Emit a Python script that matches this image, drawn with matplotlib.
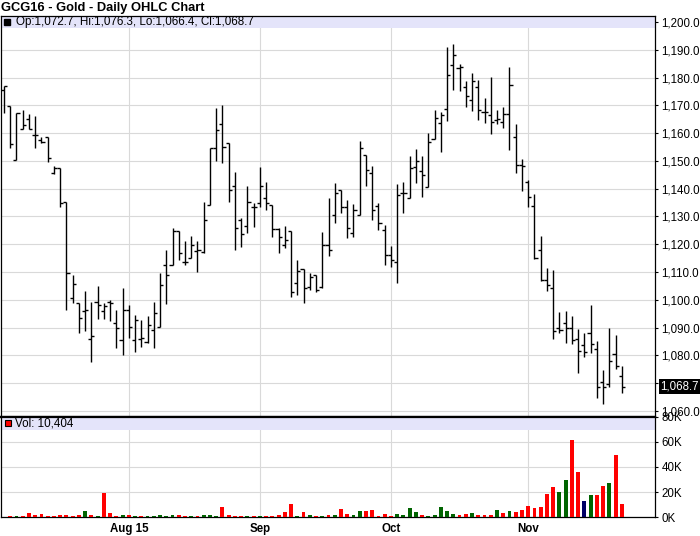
import numpy as np
import matplotlib
matplotlib.use('Agg')
import matplotlib.pyplot as plt
from matplotlib.patches import Rectangle

plt.rcParams['font.family'] = ['Liberation Sans', 'DejaVu Sans']

# daily OHLC (oldest first)
opens = [1175.5, 1169.8, 1150.2, 1161.4, 1165.0, 1159.3, 1157.5, 1158.5, 1145.5, 1147.3,
         1135.1, 1100.5, 1098.9, 1096.0, 1085.7, 1099.2, 1096.0, 1099.3, 1091.5, 1085.5,
         1096.3, 1085.5, 1085.7, 1084.9, 1089.1, 1090.3, 1112.5, 1112.5, 1124.9, 1113.7,
         1114.9, 1117.5, 1117.3, 1134.3, 1154.5, 1163.3, 1156.3, 1141.0, 1128.7, 1126.5,
         1133.5, 1134.7, 1136.5, 1134.3, 1125.5, 1119.7, 1124.7, 1105.9, 1111.1, 1104.7,
         1108.9, 1104.7, 1119.7, 1130.7, 1139.7, 1133.5, 1124.1, 1130.7, 1152.0, 1145.8,
         1133.7, 1125.3, 1116.0, 1113.5, 1138.3, 1136.5, 1147.8, 1146.3, 1140.7, 1158.0,
         1163.8, 1168.8, 1184.7, 1183.5, 1176.8, 1171.8, 1176.8, 1167.8, 1166.4, 1164.9,
         1164.0, 1167.0, 1158.5, 1148.5, 1142.5, 1133.8, 1117.9, 1107.1, 1104.1, 1089.7,
         1091.5, 1089.7, 1085.8, 1083.7, 1087.9, 1082.2, 1070.3, 1069.6, 1080.5, 1072.7]
highs = [1177.0, 1169.8, 1167.1, 1168.3, 1166.9, 1166.2, 1158.5, 1158.5, 1148.2, 1147.3,
         1135.1, 1108.9, 1098.9, 1103.1, 1099.2, 1104.9, 1098.9, 1099.9, 1096.5, 1104.1,
         1098.1, 1094.5, 1092.7, 1094.1, 1099.2, 1109.5, 1118.1, 1125.7, 1124.9, 1121.1,
         1122.9, 1121.1, 1135.1, 1154.8, 1168.9, 1170.1, 1156.3, 1146.0, 1129.3, 1141.0,
         1134.9, 1147.7, 1142.4, 1134.3, 1125.7, 1126.7, 1124.7, 1114.3, 1111.1, 1109.7,
         1108.9, 1124.4, 1136.5, 1141.9, 1139.7, 1135.9, 1134.4, 1157.1, 1152.0, 1148.1,
         1135.0, 1126.9, 1119.3, 1141.6, 1142.5, 1151.7, 1154.2, 1151.7, 1160.2, 1168.2,
         1167.5, 1191.0, 1192.2, 1185.0, 1178.7, 1181.6, 1179.0, 1172.6, 1180.4, 1168.4,
         1169.4, 1184.0, 1163.3, 1150.6, 1143.1, 1138.1, 1123.1, 1111.3, 1110.7, 1095.5,
         1096.0, 1094.2, 1089.4, 1088.2, 1098.1, 1085.2, 1074.7, 1089.7, 1087.3, 1076.3]
lows = [1167.1, 1154.5, 1150.2, 1161.4, 1161.4, 1154.8, 1156.6, 1149.8, 1145.3, 1133.3,
        1096.3, 1098.9, 1087.9, 1088.8, 1077.7, 1093.2, 1093.2, 1092.2, 1082.8, 1080.1,
        1086.4, 1081.3, 1083.1, 1084.3, 1082.8, 1090.3, 1098.5, 1112.5, 1114.3, 1112.7,
        1114.9, 1110.1, 1116.9, 1134.3, 1150.1, 1149.4, 1135.3, 1118.1, 1118.9, 1124.1,
        1126.3, 1133.5, 1132.5, 1122.7, 1116.9, 1118.5, 1101.1, 1101.7, 1098.7, 1103.7,
        1102.9, 1104.1, 1115.9, 1127.7, 1131.1, 1122.1, 1122.5, 1130.7, 1141.0, 1128.7,
        1125.1, 1112.5, 1111.9, 1105.9, 1131.1, 1136.5, 1142.1, 1137.1, 1140.7, 1158.0,
        1153.2, 1164.4, 1175.4, 1175.1, 1169.4, 1168.0, 1164.6, 1163.7, 1159.6, 1163.2,
        1161.9, 1153.9, 1145.5, 1139.3, 1133.3, 1114.6, 1106.9, 1103.3, 1085.9, 1088.2,
        1084.6, 1084.1, 1073.5, 1079.3, 1080.7, 1064.5, 1062.5, 1068.7, 1075.0, 1066.4]
closes = [1177.0, 1156.0, 1167.1, 1162.9, 1161.4, 1159.3, 1157.0, 1150.9, 1147.3, 1134.7,
          1109.7, 1105.7, 1093.6, 1096.3, 1086.9, 1098.0, 1097.7, 1098.9, 1089.7, 1096.3,
          1090.3, 1092.9, 1086.4, 1091.1, 1095.1, 1105.3, 1108.9, 1124.9, 1116.7, 1113.7,
          1119.7, 1118.1, 1128.9, 1154.5, 1161.1, 1154.9, 1139.5, 1125.7, 1123.7, 1135.1,
          1133.5, 1141.0, 1134.7, 1125.5, 1122.5, 1121.7, 1102.7, 1110.3, 1104.1, 1108.3,
          1103.5, 1119.9, 1117.9, 1138.5, 1133.5, 1125.7, 1132.3, 1154.8, 1146.6, 1132.5,
          1127.8, 1116.0, 1114.3, 1137.7, 1138.6, 1147.5, 1149.9, 1145.1, 1156.8, 1165.6,
          1166.5, 1180.8, 1188.3, 1184.0, 1173.5, 1178.7, 1168.2, 1167.6, 1164.0, 1165.0,
          1167.0, 1177.4, 1148.5, 1148.2, 1137.0, 1114.9, 1107.1, 1105.3, 1088.8, 1089.1,
          1089.7, 1085.5, 1081.6, 1081.3, 1084.1, 1068.7, 1068.7, 1078.0, 1076.2, 1068.7]

# volume in thousands
volume = [0, 1.1, 1.1, 1.1, 3.5, 1.9, 2.7, 1.1, 1.1, 1.9,
          1.9, 1.1, 1.9, 5.1, 1.9, 1.1, 19.5, 3.5, 1.1, 1.9,
          1.9, 1.1, 1.1, 1.1, 1.1, 1.9, 1.1, 1.9, 1.9, 1.1,
          1.1, 1.1, 1.9, 1.9, 1.1, 8.3, 1.9, 1.1, 1.1, 1.1,
          1.1, 1.1, 1.1, 1.1, 1.9, 4.3, 10.7, 1.1, 4.3, 1.9,
          1.1, 1.1, 1.9, 1.9, 6.7, 2.7, 1.9, 5.1, 5.1, 5.9,
          1.1, 2.7, 1.1, 2.7, 1.9, 7.5, 4.3, 1.9, 1.1, 1.9,
          8.3, 5.1, 2.7, 1.9, 2.7, 3.5, 1.9, 1.9, 1.9, 5.9,
          3.5, 5.1, 4.3, 5.9, 9.1, 7.5, 8.3, 18.7, 24.3, 20.3,
          29.9, 61.1, 36.3, 13.1, 17.9, 17.9, 25.1, 27.5, 49.9, 10.404]
# u = up, d = down, n = unchanged (volume bar colour)
direction = ('d d u d d d d d d d '
             'd d d u d u d d d u '
             'd u d u u u u u d d '
             'u d u u u d d d d u '
             'd u d d d d d u d u '
             'd u d u d d u u d d '
             'd d d u u u u d u u '
             'u u u d d u d d d u '
             'd u d d d d d d d u '
             'u d d n u d d u d d').split()

month_pos = [20, 41, 62, 84]
month_lab = ['Aug 15', 'Sep', 'Oct', 'Nov']

price_ticks = list(range(1060, 1201, 10))
vol_ticks = [0, 20, 40, 60, 80]

dir_color = {'u': '#006400', 'd': '#ff0000', 'n': '#000066'}
band = '#e4e4fa'
grid = '#d9d9d9'

x = np.arange(len(opens))

fig = plt.figure(figsize=(7, 5.36), dpi=100)
ax = fig.add_axes([0.001, 0.2226, 0.935, 0.7475])
axv = fig.add_axes([0.001, 0.0349, 0.935, 0.1877])

# price panel
ax.vlines(x, lows, highs, color='black', lw=1.0, zorder=3)
ax.hlines(opens, x - 0.5, x, color='black', lw=1.0, zorder=3)
ax.hlines(closes, x, x + 0.5, color='black', lw=1.0, zorder=3)
ax.set_xlim(-0.53, 104.35)
ax.set_ylim(1057.9, 1202.2)
ax.set_yticks(price_ticks)
ax.set_yticklabels(['' if v == 1070 else '{:,.1f}'.format(v) for v in price_ticks])
ax.yaxis.tick_right()
ax.set_xticks(month_pos)
ax.tick_params(axis='x', length=0, labelbottom=False)
ax.tick_params(axis='y', length=2.5, width=0.8, pad=2, labelsize=8.3)
ax.grid(True, color=grid, lw=0.8, zorder=0)
ax.set_axisbelow(True)
ax.add_patch(Rectangle((0, 0.97), 1, 0.03, transform=ax.transAxes,
                       facecolor=band, edgecolor='none', zorder=1))
ax.plot([0.009], [0.985], marker='s', ms=4.5, color='black',
        transform=ax.transAxes, clip_on=False, zorder=4)
ax.text(0.023, 0.985, 'Op:{:,.1f}, Hi:{:,.1f}, Lo:{:,.1f}, Cl:{:,.1f}'.format(
            opens[-1], highs[-1], lows[-1], closes[-1]),
        transform=ax.transAxes, va='center', ha='left', fontsize=8.4, zorder=4)
ax.text(1.008, closes[-1], '{:,.1f}'.format(closes[-1]),
        transform=ax.get_yaxis_transform(), va='center', ha='left',
        fontsize=8.3, color='white',
        bbox=dict(facecolor='black', edgecolor='none', pad=1.2))
for s in ax.spines.values():
    s.set_linewidth(0.9)
ax.spines['bottom'].set_linewidth(1.6)

# volume panel
axv.bar(x, volume, width=0.62, color=[dir_color[d] for d in direction], zorder=3)
axv.set_xlim(-0.53, 104.35)
axv.set_ylim(0, 80)
axv.set_yticks(vol_ticks)
axv.set_yticklabels(['{}K'.format(v) for v in vol_ticks])
axv.yaxis.tick_right()
axv.set_xticks(month_pos)
axv.set_xticklabels(month_lab, fontweight='bold', fontsize=8.3)
axv.tick_params(axis='x', length=0, pad=4)
axv.tick_params(axis='y', length=2.5, width=0.8, pad=2, labelsize=8.3)
axv.grid(True, color=grid, lw=0.8, zorder=0)
axv.set_axisbelow(True)
axv.add_patch(Rectangle((0, 0.87), 1, 0.13, transform=axv.transAxes,
                        facecolor=band, edgecolor='none', zorder=1))
axv.plot([0.011], [0.935], marker='s', ms=5, color='#ff0000', mec='black', mew=0.8,
         transform=axv.transAxes, clip_on=False, zorder=4)
axv.text(0.022, 0.935, 'Vol: {:,}'.format(int(round(volume[-1] * 1000))),
         transform=axv.transAxes, va='center', ha='left', fontsize=8.4, zorder=4)
for s in axv.spines.values():
    s.set_linewidth(0.9)
axv.spines['top'].set_linewidth(1.6)

fig.text(0.001, 1 - 7.5 / 536, 'GCG16 - Gold - Daily OHLC Chart',
         fontsize=9.25, fontweight='bold', va='center', ha='left')

fig.savefig('out.png', dpi=100)
